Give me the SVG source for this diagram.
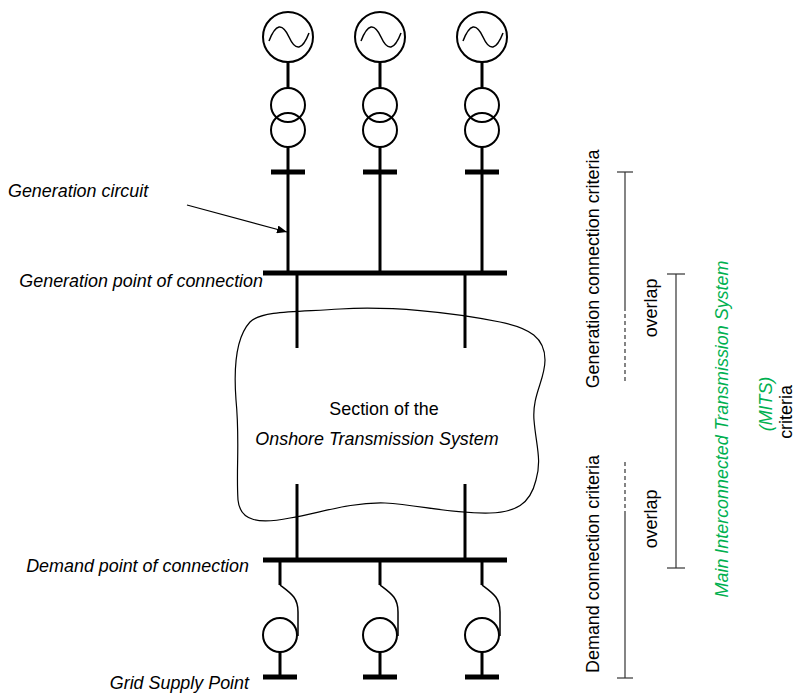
<svg xmlns="http://www.w3.org/2000/svg" width="798" height="693" viewBox="0 0 798 693">
<defs>
<style>
.t{font-family:"Liberation Sans",Arial,sans-serif;font-size:17.9px;fill:#000}
.i{font-style:italic}
.g{fill:#00b050}
.stem{stroke:#000;stroke-width:3;fill:none}
.bar{stroke:#000;stroke-width:5;fill:none}
.ring{stroke:#000;stroke-width:2;fill:none}
.thin{stroke:#000;stroke-width:1.5;fill:none}
.rng{stroke:#333;stroke-width:1.2;fill:none}
.dash{stroke:#333;stroke-width:1.2;fill:none;stroke-dasharray:4 3}
</style>
<marker id="ah" markerWidth="10" markerHeight="8" refX="10" refY="4" orient="auto" markerUnits="userSpaceOnUse">
<path d="M0,0 L10,4 L0,8 Z" fill="#000"/>
</marker>
<g id="genunit">
<line class="stem" x1="0" y1="62" x2="0" y2="88"/>
<line class="stem" x1="0" y1="147" x2="0" y2="273"/>
<line class="bar" x1="-17" y1="172" x2="17" y2="172"/>
<circle class="ring" cx="0" cy="37" r="25"/>
<path class="thin" d="M-19,41 Q-9,15 1,37 T21,33"/>
<circle class="ring" cx="0" cy="105" r="17"/>
<circle class="ring" cx="0" cy="130" r="17"/>
</g>
<g id="demunit">
<line class="stem" x1="0" y1="560" x2="0" y2="585"/>
<path class="thin" d="M0,585 C12,594 18,598 18,612 L18,636"/>
<circle class="ring" cx="0" cy="635" r="17"/>
<line class="stem" x1="0" y1="652" x2="0" y2="677"/>
<line class="bar" x1="-17" y1="677" x2="17" y2="677"/>
</g>
</defs>

<g id="cloud">
<path d="M250,322 C262,310 300,312 340,309 C390,306 450,312 500,322 C530,328 545,338 545,360 C545,380 532,395 534,420 C536,445 542,460 536,480 C530,505 515,512 490,513 C450,514 420,505 385,503 C350,502 320,513 290,518 C260,524 240,522 238,500 C236,470 240,440 236,400 C233,360 238,335 250,322 Z" fill="none" stroke="#000" stroke-width="1.2"/>
<text class="t" x="384" y="415" text-anchor="middle">Section of the</text>
<text class="t i" x="377" y="445" text-anchor="middle">Onshore Transmission System</text>
</g>

<g id="gen1"><use href="#genunit" x="288" y="0"/></g>
<g id="gen2"><use href="#genunit" x="380" y="0"/></g>
<g id="gen3"><use href="#genunit" x="482" y="0"/></g>

<g id="genbus">
<line class="bar" x1="263" y1="273" x2="507" y2="273"/>
</g>
<g id="dembus">
<line class="bar" x1="263" y1="560" x2="507" y2="560"/>
</g>

<g id="dem1"><use href="#demunit" x="280" y="0"/></g>
<g id="dem2"><use href="#demunit" x="380" y="0"/></g>
<g id="dem3"><use href="#demunit" x="482" y="0"/></g>

<g id="connectors">
<line class="stem" x1="297" y1="273" x2="297" y2="348"/>
<line class="stem" x1="465" y1="273" x2="465" y2="348"/>
<line class="stem" x1="297" y1="484" x2="297" y2="560"/>
<line class="stem" x1="465" y1="484" x2="465" y2="560"/>
<line x1="187" y1="205" x2="287" y2="232" stroke="#000" stroke-width="1.2" marker-end="url(#ah)"/>
</g>

<g id="labels">
<text class="t i" x="8" y="197">Generation circuit</text>
<text class="t i" x="263" y="287" text-anchor="end">Generation point of connection</text>
<text class="t i" x="249" y="572" text-anchor="end">Demand point of connection</text>
<text class="t i" x="249" y="689" text-anchor="end">Grid Supply Point</text>
</g>

<g id="ranges">
<line class="rng" x1="617" y1="172" x2="633" y2="172"/>
<line class="rng" x1="625" y1="172" x2="625" y2="307"/>
<line class="dash" x1="625" y1="307" x2="625" y2="383"/>
<line class="dash" x1="625" y1="462" x2="625" y2="515"/>
<line class="rng" x1="625" y1="515" x2="625" y2="678"/>
<line class="rng" x1="617" y1="678" x2="633" y2="678"/>
<line class="rng" x1="667" y1="274" x2="685" y2="274"/>
<line class="rng" x1="676" y1="274" x2="676" y2="568"/>
<line class="rng" x1="667" y1="568" x2="685" y2="568"/>
<text class="t" transform="translate(599,269) rotate(-90)" text-anchor="middle">Generation connection criteria</text>
<text class="t" transform="translate(599,564) rotate(-90)" text-anchor="middle">Demand connection criteria</text>
<text class="t" transform="translate(657,308) rotate(-90)" text-anchor="middle">overlap</text>
<text class="t" transform="translate(657,519) rotate(-90)" text-anchor="middle">overlap</text>
<text class="t i g" transform="translate(728,429) rotate(-90)" text-anchor="middle">Main Interconnected Transmission System</text>
<text class="t i g" transform="translate(772,404) rotate(-90)" text-anchor="middle">(MITS)</text>
<text class="t" transform="translate(792,412) rotate(-90)" text-anchor="middle">criteria</text>
</g>
</svg>
